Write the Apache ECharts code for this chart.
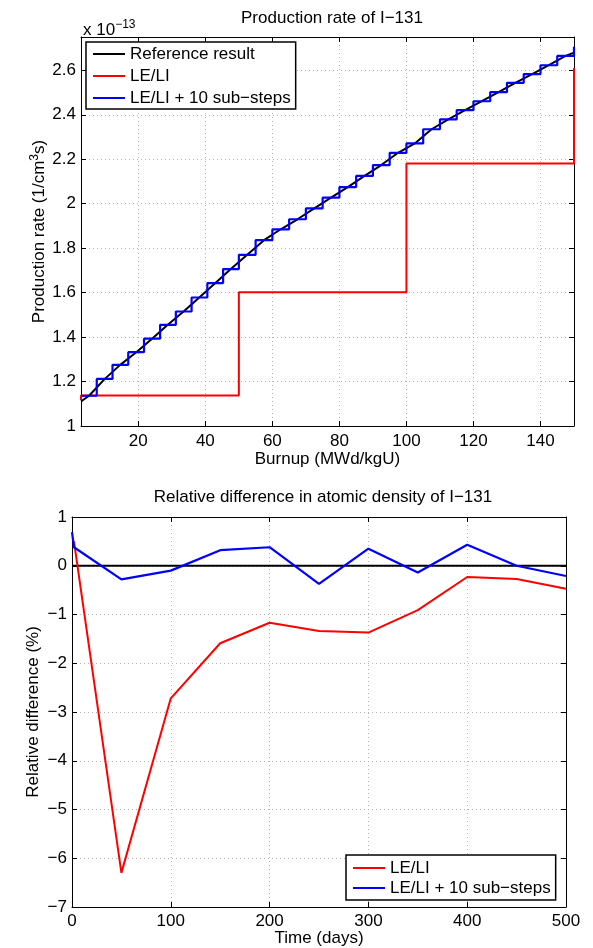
<!DOCTYPE html>
<html lang="en">
<head>
    <meta charset="UTF-8">
    <title>I-131</title>
    <script src="https://cdn.jsdelivr.net/npm/echarts@6/dist/echarts.min.js"></script>
    <style>
        html, body { margin: 0; padding: 0; background: #fff; }
    </style>
</head>
<body>
    <div id="main" style="width: 593px;height:948px;"></div>

    <script type="text/javascript">
        // top plot: production rate (x 1e-13)
        var refBurnup = [2.9, 5.3, 10, 14.6, 19.4, 24.1, 28.8, 33.5, 38.2, 43, 47.6,
            52.5, 57.5, 62.5, 67.5, 72.5, 77.5, 82.5, 87.5, 92.5, 97.5,
            102.5, 107.5, 112.5, 117.5, 122.5, 127.5, 132.5, 137.5, 142.5, 147.5, 150];
        var refRate = [1.11, 1.136, 1.212, 1.275, 1.332, 1.393, 1.455, 1.515, 1.578, 1.643, 1.706,
            1.770, 1.836, 1.885, 1.930, 1.979, 2.027, 2.075, 2.125, 2.174, 2.229,
            2.271, 2.335, 2.379, 2.421, 2.461, 2.502, 2.544, 2.583, 2.623, 2.665, 2.68];

        var leliBurnup = [2.9, 2.9, 50, 100, 150];
        var leliRate = [1.117, 1.137, 1.602, 2.181, 2.61];

        var subBurnup = [2.9, 7.6, 12.3, 17.0, 21.7, 26.5, 31.2, 35.9, 40.6, 45.3,
            50, 55, 60, 65, 70, 75, 80, 85, 90, 95,
            100, 105, 110, 115, 120, 125, 130, 135, 140, 145, 150];
        var subRate = [1.136, 1.212, 1.275, 1.332, 1.393, 1.455, 1.515, 1.578, 1.643, 1.706,
            1.770, 1.836, 1.885, 1.930, 1.979, 2.027, 2.075, 2.125, 2.174, 2.229,
            2.271, 2.335, 2.379, 2.421, 2.461, 2.502, 2.544, 2.583, 2.623, 2.665, 2.706];

        // bottom plot: relative difference (%)
        var timeDays = [0, 2, 50, 100, 150, 200, 250, 300, 350, 400, 450, 500];
        var diffLeli = ['-', 0.5, -6.3, -2.72, -1.59, -1.17, -1.34, -1.37, -0.91, -0.23, -0.27, -0.47];
        var diffSub = [0.69, 0.38, -0.28, -0.10, 0.32, 0.38, -0.37, 0.35, -0.14, 0.43, 0.0, -0.21];
        var zeroLine = [0, 500];

        function pairs(xs, ys) {
            var out = [];
            for (var i = 0; i < xs.length; i++) {
                out.push([xs[i], ys[i]]);
            }
            return out;
        }

        function minus(v) {
            return v < 0 ? '\u2212' + Math.abs(v) : String(v);
        }

        var font = 'Liberation Sans, Arial, Helvetica, sans-serif';
        var fs = 17;
        var gridLine = { show: true, lineStyle: { color: '#b4b4b4', type: [1, 3], width: 1 } };
        var tickIn = { show: true, inside: true, length: 5, lineStyle: { color: '#000' } };
        var axisLine = { show: true, onZero: false, lineStyle: { color: '#000', width: 1 } };
        var tickLabel = { color: '#000', fontSize: fs, fontFamily: font };

        function boxAxis(base) {
            // plain copy used for the top / right side of the box
            return Object.assign({}, base, {
                axisLabel: { show: false },
                splitLine: { show: false },
                name: ''
            });
        }

        var x0 = {
            type: 'value', gridIndex: 0, min: 2.9, max: 150, splitNumber: 7,
            minInterval: 20, maxInterval: 20,
            axisLine: axisLine, axisTick: tickIn, splitLine: gridLine,
            axisLabel: Object.assign({ showMinLabel: false, showMaxLabel: false, margin: 7 }, tickLabel),
            name: 'Burnup (MWd/kgU)', nameLocation: 'middle', nameGap: 25, nameMoveOverlap: false,
            nameTextStyle: { color: '#000', fontSize: fs, fontFamily: font }
        };
        var y0 = {
            type: 'value', gridIndex: 0, min: 1, max: 2.75, interval: 0.2,
            axisLine: axisLine, axisTick: tickIn, splitLine: gridLine,
            axisLabel: Object.assign({ showMaxLabel: false, margin: 5 }, tickLabel),
            name: 'Production rate (1/cm{sup|3}s)', nameLocation: 'middle', nameGap: 31, nameMoveOverlap: false,
            nameTextStyle: {
                color: '#000', fontSize: fs, fontFamily: font,
                rich: { sup: { fontSize: 12, verticalAlign: 'top', padding: [0, 0, 9, 0], fontFamily: font, color: '#000' } }
            }
        };
        var x1 = {
            type: 'value', gridIndex: 1, min: 0, max: 500, interval: 100,
            axisLine: axisLine, axisTick: tickIn, splitLine: gridLine,
            axisLabel: Object.assign({ margin: 6 }, tickLabel),
            name: 'Time (days)', nameLocation: 'middle', nameGap: 23, nameMoveOverlap: false,
            nameTextStyle: { color: '#000', fontSize: fs, fontFamily: font }
        };
        var y1 = {
            type: 'value', gridIndex: 1, min: -7, max: 1, interval: 1,
            axisLine: axisLine, axisTick: tickIn, splitLine: gridLine,
            axisLabel: Object.assign({ margin: 5, formatter: minus }, tickLabel),
            name: 'Relative difference (%)', nameLocation: 'middle', nameGap: 30, nameMoveOverlap: false,
            nameTextStyle: { color: '#000', fontSize: fs, fontFamily: font }
        };

        var option = {
            backgroundColor: '#fff',
            animation: false,
            title: [{
                text: 'Production rate of I\u2212131', left: 327, top: 5, textAlign: 'center',
                textStyle: { fontSize: fs, fontWeight: 'normal', color: '#000', fontFamily: font }
            }, {
                text: 'Relative difference in atomic density of I\u2212131', left: 318, top: 484, textAlign: 'center',
                textStyle: { fontSize: fs, fontWeight: 'normal', color: '#000', fontFamily: font }
            }, {
                text: 'x 10{sup|\u221213}', left: 78, top: 14,
                textStyle: {
                    fontSize: fs, fontWeight: 'normal', color: '#000', fontFamily: font,
                    rich: { sup: { fontSize: 12, verticalAlign: 'top', padding: [0, 0, 10, 0], color: '#000', fontFamily: font } }
                }
            }],
            grid: [
                { left: 81, right: 19, top: 37, height: 389, show: false },
                { left: 72, right: 27, top: 517, height: 390, show: false }
            ],
            legend: [{
                data: ['Reference result', 'LE/LI', 'LE/LI + 10 sub\u2212steps'],
                orient: 'vertical', left: 86, top: 42,
                icon: 'rect', itemWidth: 32, itemHeight: 2, itemGap: 0,
                padding: [1, 5, 0, 7],
                backgroundColor: '#fff', borderColor: '#000', borderWidth: 1.5,
                textStyle: { fontSize: fs, color: '#000', fontFamily: font, lineHeight: 22 }
            }, {
                data: ['LE/LI', 'LE/LI + 10 sub\u2212steps'],
                orient: 'vertical', left: 346, top: 855,
                icon: 'rect', itemWidth: 32, itemHeight: 2, itemGap: 0,
                padding: [3, 5, 2, 7],
                backgroundColor: '#fff', borderColor: '#000', borderWidth: 1.5,
                textStyle: { fontSize: fs, color: '#000', fontFamily: font, lineHeight: 20 }
            }],
            xAxis: [
                x0,
                Object.assign(boxAxis(x0), { position: 'top' }),
                x1,
                Object.assign(boxAxis(x1), { position: 'top' })
            ],
            yAxis: [
                y0,
                Object.assign(boxAxis(y0), { position: 'right' }),
                y1,
                Object.assign(boxAxis(y1), { position: 'right' })
            ],
            series: [{
                name: 'Reference result', type: 'line', xAxisIndex: 0, yAxisIndex: 0,
                data: pairs(refBurnup, refRate), symbol: 'none', smooth: false,
                color: '#000', lineStyle: { color: '#000', width: 2 }, z: 3
            }, {
                name: 'LE/LI', type: 'line', xAxisIndex: 0, yAxisIndex: 0,
                data: pairs(leliBurnup, leliRate), step: 'end', symbol: 'none',
                color: '#ff0000', lineStyle: { color: '#ff0000', width: 2 }, z: 2
            }, {
                name: 'LE/LI + 10 sub\u2212steps', type: 'line', xAxisIndex: 0, yAxisIndex: 0,
                data: pairs(subBurnup, subRate), step: 'end', symbol: 'none',
                color: '#0000ff', lineStyle: { color: '#0000ff', width: 2.2 }, z: 4
            }, {
                name: 'zero', type: 'line', xAxisIndex: 2, yAxisIndex: 2,
                data: pairs(zeroLine, [0, 0]), symbol: 'none',
                color: '#000', lineStyle: { color: '#000', width: 2 }, z: 2
            }, {
                name: 'LE/LI', type: 'line', xAxisIndex: 2, yAxisIndex: 2,
                data: pairs(timeDays, diffLeli), symbol: 'none',
                color: '#ff0000', lineStyle: { color: '#ff0000', width: 2 }, z: 3
            }, {
                name: 'LE/LI + 10 sub\u2212steps', type: 'line', xAxisIndex: 2, yAxisIndex: 2,
                data: pairs(timeDays, diffSub), symbol: 'none',
                color: '#0000ff', lineStyle: { color: '#0000ff', width: 2.2 }, z: 4
            }]
        };

        var myChart = echarts.init(document.getElementById('main'));
        myChart.setOption(option);
    </script>
</body>
</html>
